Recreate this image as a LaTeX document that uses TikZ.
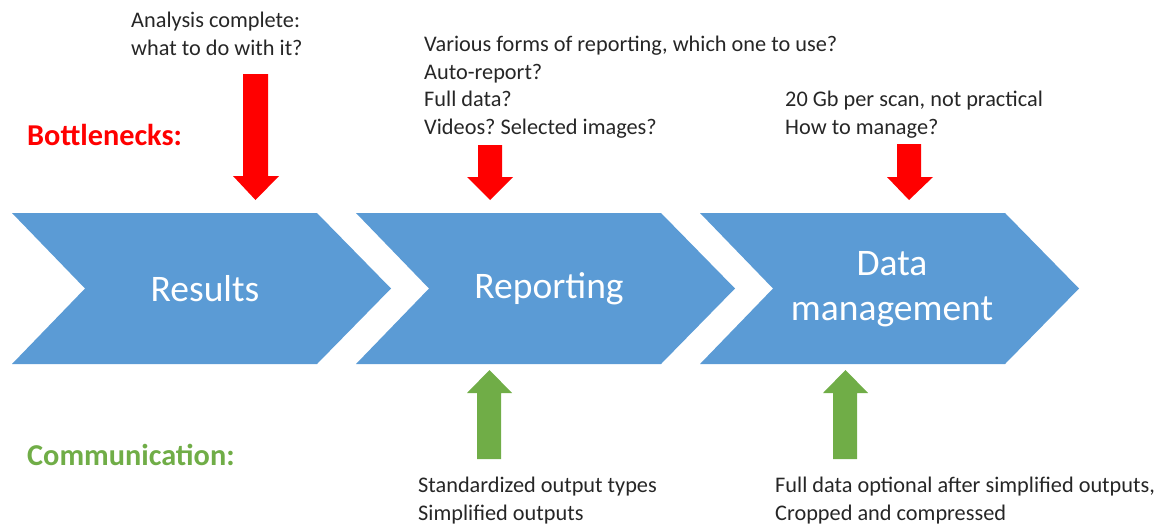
\documentclass[tikz,border=0pt]{standalone}
\usepackage{fontspec}
\setmainfont{Carlito}
\frenchspacing
\definecolor{chevblue}{HTML}{5B9BD5}
\definecolor{commgreen}{HTML}{70AD47}
\definecolor{bred}{HTML}{FF0000}
\definecolor{txt}{HTML}{262626}
\begin{document}
\begin{tikzpicture}[x=1pt,y=-1pt,
  chev/.style={fill=chevblue},
  chevlabel/.style={text=white,font=\fontsize{37.5}{45}\selectfont,align=center,inner sep=0pt},
  note/.style={text=txt,font=\fontsize{22.3}{27.5}\selectfont,align=left,inner sep=0pt,anchor=base west},
  heading/.style={font=\fontsize{30.3}{35}\selectfont\bfseries,inner sep=0pt,anchor=base west},
  redarrow/.style={fill=bred},
  greenarrow/.style={fill=commgreen}]
\useasboundingbox (0,0) rectangle (1166,525);
% chevrons
\foreach \L in {12,356,700}{
  \fill[chev] (\L,213) -- (\L+305,213) -- (\L+379,288.5) -- (\L+305,364) -- (\L,364) -- (\L+73,288.5) -- cycle;
}
\node[chevlabel] (results) at (205,288.5) {Results};
\node[chevlabel] (reporting) at (549,288.5) {Reporting};
\node[chevlabel] (datamgmt) at (892,289.5) {Data\\management};
% red arrows (down)
\fill[redarrow] (243,74) -- (268,74) -- (268,176) -- (279,176) -- (255.5,200) -- (233,176) -- (243,176) -- cycle;
\fill[redarrow] (478,145) -- (502,145) -- (502,177) -- (513,177) -- (490,200) -- (467,177) -- (478,177) -- cycle;
\fill[redarrow] (897,144) -- (921,144) -- (921,177) -- (933,177) -- (909,200) -- (887,177) -- (897,177) -- cycle;
% green arrows (up)
\fill[greenarrow] (477,459) -- (501,459) -- (501,393) -- (512,393) -- (489.5,370) -- (467,393) -- (477,393) -- cycle;
\fill[greenarrow] (833,459) -- (857,459) -- (857,393) -- (868,393) -- (845.5,370) -- (823,393) -- (833,393) -- cycle;
% headings
\node[heading,text=bred] (bottlenecks) at (27,145) {Bottlenecks:};
\node[heading,text=commgreen] (communication) at (27,465) {Communication:};
% notes (anchored at the baseline of the last line)
\node[note] (n1) at (131,55) {Analysis complete:\\what to do with it?};
\node[note] (n2) at (424,134) {Various forms of reporting, which one to use?\\Auto-report?\\Full data?\\Videos? Selected images?};
\node[note] (n3) at (785,134) {20 Gb per scan, not practical\\How to manage?};
\node[note] (n4) at (418,520) {Standardized output types\\Simplified outputs};
\node[note] (n5) at (775,520) {Full data optional after simplified outputs,\\Cropped and compressed};
\end{tikzpicture}
\end{document}
